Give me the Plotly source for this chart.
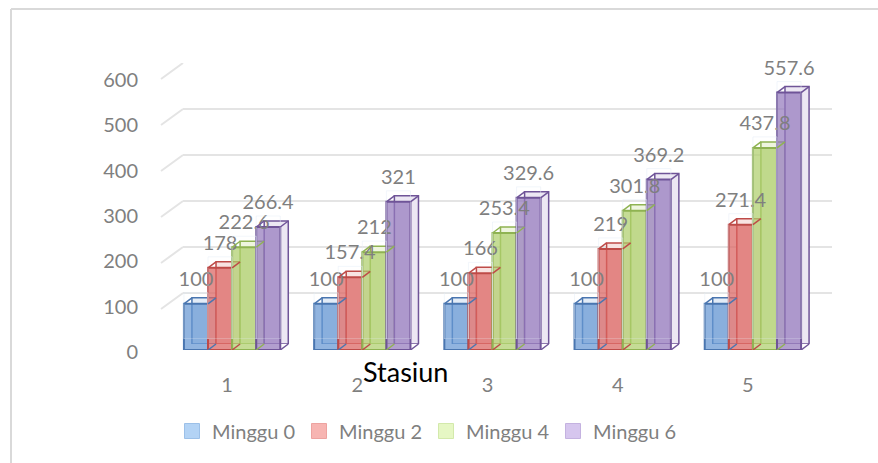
import plotly.graph_objects as go

W, H = 878, 463

# ---- data ----
stations = ["1", "2", "3", "4", "5"]
series_names = ["Minggu 0", "Minggu 2", "Minggu 4", "Minggu 6"]
minggu0 = [100, 100, 100, 100, 100]
minggu2 = [178, 157.4, 166, 219, 271.4]
minggu4 = [222.6, 212, 253.4, 301.8, 437.8]
minggu6 = [266.4, 321, 329.6, 369.2, 557.6]
y_ticks = [0, 100, 200, 300, 400, 500, 600]
x_title = "Stasiun"

series_values = [minggu0, minggu2, minggu4, minggu6]

# ---- styles ----
FONT = "Lato"
GRAY = "#7f7f7f"
front_fill = ["rgba(102,151,211,0.72)", "rgba(219,99,95,0.72)",
              "rgba(174,207,108,0.72)", "rgba(148,122,188,0.72)"]
back_fill = ["#e3ecf7", "#f8e3e2", "#eef5de", "#ece7f3"]
edge = ["#4a76b0", "#be4b48", "#8fb352", "#6f5498"]
legend_fill = ["#b3d3f5", "#f7b5b2", "#e6f7c4", "#d6c6ee"]
legend_edge = ["#9cc0e8", "#eda3a0", "#d3e9ab", "#c4b2e0"]
BARGAP = 0.26
DEPTH_X, DEPTH_Y = 8, 6  # pixel offset of the bar back faces


def dom_x(a, b):
    return [a / W, b / W]


def dom_y(top, bottom):
    return [1 - bottom / H, 1 - top / H]


fig = go.Figure()

# legend-only dummy traces (on tick-label layer x5/y5)
for name, lf, le in zip(series_names, legend_fill, legend_edge):
    fig.add_trace(go.Scatter(x=[None], y=[None], mode="markers", name=name,
                             marker=dict(symbol="square", size=15, color=lf,
                                         line=dict(color=le, width=1)),
                             xaxis="x5", yaxis="y5", showlegend=True))

# back faces of the bars
for name, vals, bf, ec in zip(series_names, series_values, back_fill, edge):
    fig.add_trace(go.Bar(x=stations, y=vals, name=name, xaxis="x2", yaxis="y2",
                         marker=dict(color=bf, line=dict(color=ec, width=1.5)),
                         showlegend=False, hoverinfo="skip"))

# front faces
for name, vals, ff, ec in zip(series_names, series_values, front_fill, edge):
    fig.add_trace(go.Bar(x=stations, y=vals, name=name, xaxis="x3", yaxis="y3",
                         marker=dict(color=ff, line=dict(color=ec, width=2)),
                         showlegend=False))

# value labels
for name, vals in zip(series_names, series_values):
    fig.add_trace(go.Bar(x=stations, y=vals, name=name, xaxis="x4", yaxis="y4",
                         marker=dict(color="rgba(0,0,0,0)"),
                         text=[f"{v:g}" for v in vals], textposition="outside",
                         textfont=dict(family=FONT, size=20, color=GRAY),
                         constraintext="none", cliponaxis=False,
                         showlegend=False, hoverinfo="skip"))

# dummy trace for gridline layer
fig.add_trace(go.Scatter(x=[None], y=[None], xaxis="x", yaxis="y",
                         showlegend=False, hoverinfo="skip"))

hidden = dict(showgrid=False, zeroline=False, showticklabels=False, showline=False, ticks="")

layout = dict(
    width=W, height=H,
    margin=dict(l=0, r=0, t=0, b=0, pad=0, autoexpand=False),
    paper_bgcolor="white", plot_bgcolor="rgba(0,0,0,0)",
    barmode="group", bargap=BARGAP, bargroupgap=0,
    showlegend=True,
    # gridline (back wall) layer
    xaxis=dict(domain=dom_x(183, 832), range=[0, 1], anchor="y", **hidden),
    yaxis=dict(domain=dom_y(63, 339), range=[0, 600], anchor="x",
               tickvals=y_ticks, showgrid=True, gridcolor="#e4e4e4", gridwidth=2,
               zeroline=False, showticklabels=False, showline=False, ticks=""),
    # back faces
    xaxis2=dict(domain=dom_x(167 + DEPTH_X, 818 + DEPTH_X), range=[-0.5, 4.5], anchor="y2",
                type="category", **hidden),
    yaxis2=dict(domain=dom_y(73 - DEPTH_Y, 350 - DEPTH_Y), range=[0, 600], anchor="x2", **hidden),
    # front faces + category labels
    xaxis3=dict(domain=dom_x(167, 818), range=[-0.5, 4.5], anchor="y3", type="category",
                showgrid=False, zeroline=False, showline=False, ticks="",
                showticklabels=True, tickfont=dict(family=FONT, size=20, color=GRAY),
                ticklabelshift=-5, ticklabelstandoff=21),
    yaxis3=dict(domain=dom_y(73, 350), range=[0, 600], anchor="x3", **hidden),
    # text layer
    xaxis4=dict(domain=dom_x(167, 818), range=[-0.5, 4.5], anchor="y4", type="category", **hidden),
    yaxis4=dict(domain=dom_y(62, 339), range=[0, 600], anchor="x4", **hidden),
    # y tick labels
    xaxis5=dict(domain=dom_x(161, 832), range=[0, 1], anchor="y5", **hidden),
    yaxis5=dict(domain=dom_y(80, 352), range=[0, 600], anchor="x5",
                tickvals=y_ticks, showgrid=False, zeroline=False, showline=False, ticks="",
                showticklabels=True, tickfont=dict(family=FONT, size=20, color=GRAY),
                ticklabelstandoff=22),
    legend=dict(orientation="h", x=172 / W, y=1 - 431 / H, xanchor="left", yanchor="middle",
                font=dict(family=FONT, size=20, color=GRAY), entrywidth=82,
                bgcolor="rgba(0,0,0,0)", itemwidth=30),
)
fig.update_layout(**layout)

shapes = []
# floor
shapes.append(dict(type="path", xref="paper", yref="y", ysizemode="pixel", yanchor=0,
                   path=f"M {161/W},-16 L {183/W},0 L {832/W},0 L {810/W},-16 Z",
                   fillcolor="#e9e9e9", line=dict(width=0), layer="below"))
# side wall diagonals
for v in y_ticks[1:]:
    shapes.append(dict(type="line", xref="paper", yref="y", ysizemode="pixel", yanchor=v,
                       x0=161 / W, x1=183 / W, y0=-16, y1=0,
                       line=dict(color="#e4e4e4", width=2), layer="below"))

# 3D depth edges of every bar (anchored on the front-face axes)
n_series = len(series_values)
bw = (1 - BARGAP) / n_series
for si, (vals, ec) in enumerate(zip(series_values, edge)):
    for ci, v in enumerate(vals):
        left = ci - (1 - BARGAP) / 2 + si * bw
        right = left + bw
        for xa, ya in ((left, v), (right, v), (right, 0)):
            shapes.append(dict(type="line", xref="x3", yref="y3",
                               xsizemode="pixel", xanchor=xa, x0=0, x1=DEPTH_X,
                               ysizemode="pixel", yanchor=ya, y0=0, y1=DEPTH_Y,
                               line=dict(color=ec, width=1.5), layer="above"))

# chart border
shapes.append(dict(type="line", xref="paper", yref="paper", x0=11 / W, x1=11 / W,
                   y0=0, y1=1 - 9 / H, line=dict(color="#d9d9d9", width=2)))
shapes.append(dict(type="line", xref="paper", yref="paper", x0=11 / W, x1=1,
                   y0=1 - 9 / H, y1=1 - 9 / H, line=dict(color="#d9d9d9", width=2)))
fig.update_layout(shapes=shapes)

fig.add_annotation(text=x_title, xref="paper", yref="paper", x=405 / W, y=1 - 371 / H,
                   xanchor="center", yanchor="middle", showarrow=False,
                   font=dict(family=FONT, size=27, color="black"))

fig.write_html("out.html")
